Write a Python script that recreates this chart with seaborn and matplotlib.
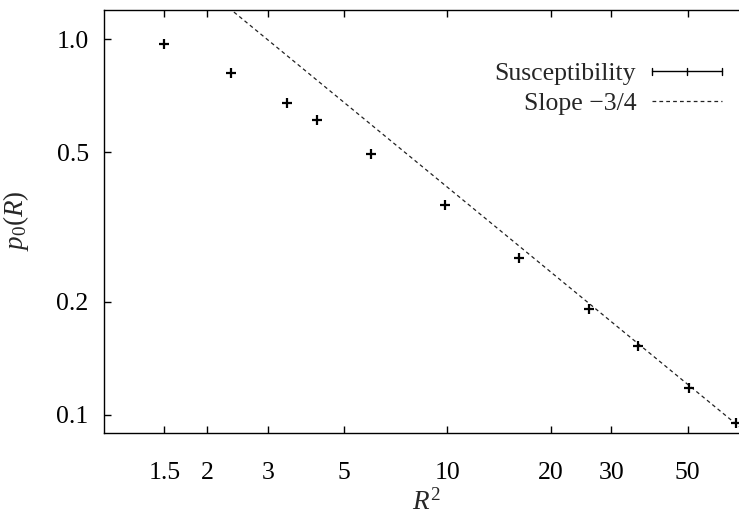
import numpy as np
import pandas as pd
import matplotlib
matplotlib.use("Agg")
import matplotlib.pyplot as plt
import seaborn as sns
from matplotlib.legend_handler import HandlerBase
from matplotlib.lines import Line2D

# Measured probability p0(R) against squared distance R^2
r_squared = [1.5, 2.34, 3.41, 4.18, 6.0, 9.86, 16.2, 25.9, 35.9, 50.5, 69.3]
p0 = [0.973, 0.815, 0.678, 0.608, 0.495, 0.362, 0.262, 0.191, 0.153, 0.118, 0.0953]
p0_err = [0.002, 0.002, 0.002, 0.002, 0.002, 0.002, 0.002, 0.002, 0.002, 0.0015, 0.0015]

# Reference power law p0 = A * (R^2)^slope
slope = -0.75
amplitude = 2.27

x_ticks = [1.5, 2, 3, 5, 10, 20, 30, 50]
x_tick_labels = ["1.5", "2", "3", "5", "10", "20", "30", "50"]
y_ticks = [0.1, 0.2, 0.5, 1.0]
y_tick_labels = ["0.1", "0.2", "0.5", "1.0"]

series_label = "Susceptibility"
fit_label = "Slope \u22123/4"

sns.set_theme(style="ticks")
plt.rcParams["font.family"] = ["Liberation Serif", "DejaVu Serif"]
plt.rcParams["mathtext.fontset"] = "custom"
plt.rcParams["mathtext.rm"] = "Liberation Serif"
plt.rcParams["mathtext.it"] = "Liberation Serif:italic"

FS = 18.5

fig = plt.figure(figsize=(7.39, 5.16), dpi=100)
ax = fig.add_axes([104 / 739, (516 - 432.5) / 516, (748 - 104) / 739, 423 / 516])

df = pd.DataFrame({"r2": r_squared, "p0": p0, "err": p0_err})

r_line = np.geomspace(1, 75, 300)
fit_df = pd.DataFrame({"r2": r_line, "p0": amplitude * r_line ** slope})

ax.set_xscale("log")
ax.set_yscale("log")

sns.lineplot(data=fit_df, x="r2", y="p0", ax=ax, color="#222222",
             linewidth=0.9, dashes=False, linestyle=(0, (3, 2.5)),
             legend=False, zorder=2)

ax.errorbar(df["r2"], df["p0"], yerr=df["err"], fmt="none",
            ecolor="black", elinewidth=1.3, capsize=0, zorder=3)
sns.scatterplot(data=df, x="r2", y="p0", ax=ax, marker="+", s=50,
                color="black", linewidth=1.6, legend=False, zorder=4)

ax.set_xlim(1, 75)
ax.set_ylim(0.0898, 1.20)

ax.xaxis.set_major_locator(matplotlib.ticker.FixedLocator(x_ticks))
ax.xaxis.set_major_formatter(matplotlib.ticker.FixedFormatter(x_tick_labels))
ax.xaxis.set_minor_locator(matplotlib.ticker.NullLocator())
ax.yaxis.set_major_locator(matplotlib.ticker.FixedLocator(y_ticks))
ax.yaxis.set_major_formatter(matplotlib.ticker.FixedFormatter(y_tick_labels))
ax.yaxis.set_minor_locator(matplotlib.ticker.NullLocator())

ax.tick_params(axis="x", which="major", direction="in", top=True, bottom=True,
               length=5, width=1, pad=21, labelsize=FS, colors="black")
ax.tick_params(axis="y", which="major", direction="in", left=True, right=False,
               length=5, width=1, pad=11, labelsize=FS, colors="black")

for side in ["left", "bottom", "top"]:
    ax.spines[side].set_linewidth(1.0)
    ax.spines[side].set_color("black")
ax.spines["right"].set_visible(False)

ax.set_xlabel("$R^2$", fontsize=FS + 1, labelpad=4)
ax.set_ylabel("$p_0(R)$", fontsize=FS + 1, labelpad=18)


class ErrorbarKey(HandlerBase):
    """Horizontal key sample with end caps and a centre tick."""

    def create_artists(self, legend, orig_handle, xdescent, ydescent,
                       width, height, fontsize, trans):
        y = height / 2 - ydescent
        x0, x1 = -xdescent, width - xdescent
        xm = (x0 + x1) / 2
        h = 2.6
        kw = dict(color="black", linewidth=1.0, transform=trans)
        return [
            Line2D([x0, x1], [y, y], **kw),
            Line2D([x0, x0], [y - h, y + h], **kw),
            Line2D([x1, x1], [y - h, y + h], **kw),
            Line2D([xm, xm], [y - h, y + h], **kw),
        ]


key_series = Line2D([], [], color="black")
key_fit = Line2D([], [], color="#222222", linewidth=0.9, linestyle=(0, (3, 2.5)))

leg = ax.legend([key_series, key_fit], [series_label, fit_label],
                handler_map={key_series: ErrorbarKey()},
                loc="upper right", bbox_to_anchor=(0.96, 0.875),
                frameon=False, fontsize=FS, markerfirst=False,
                handlelength=2.75, handletextpad=0.6, labelspacing=0.25,
                borderpad=0, borderaxespad=0)
for column in leg._legend_handle_box.get_children():
    column.align = "right"

fig.savefig("out.png", dpi=100)
